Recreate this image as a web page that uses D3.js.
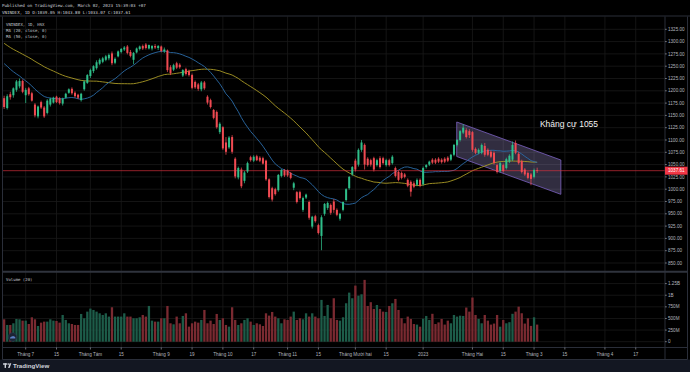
<!DOCTYPE html>
<html><head><meta charset="utf-8">
<script src="https://cdn.jsdelivr.net/npm/d3@7"></script>
<style>body{margin:0;background:#000;overflow:hidden}svg{display:block}</style>
</head><body><svg id="chart" width="690" height="372"></svg>
<script>
// ---------- DATA ----------
const symbol = "VNINDEX, 1D, HSX";
const priceTicks = [850,875,900,925,950,975,1000,1025,1050,1075,1100,1125,1150,1175,1200,1225,1250,1275,1300,1325];
const volTicks = [0,250,500,750,1000,1250];
const volTickLabels = ["0","250M","500M","750M","1B","1.25B"];
const timeTickIdx = [7,17,28,38,51,61,71,81,92,102,114,124,136,152,162,172,182,195,205];
const timeTickLabels = ["Tháng 7","15","Tháng Tám","15","Tháng 9","19","Tháng 10","17","Tháng 11","15","Tháng Mười hai","15","2023","Tháng Hai","15","Tháng 3","15","Tháng 4","17"];
// closes before the first visible bar (used only for the moving averages)
const priorCloses = [1405,1398,1390,1385,1378,1372,1368,1362,1360,1355,1350,1345,1340,1335,1330,1325,1322,1318,1315,1310,1290,1282,1275,1268,1262,1258,1255,1250,1255,1262,1298,1305,1310,1308,1304,1300,1296,1292,1290,1282,1275,1268,1235,1220,1208,1198,1190,1182,1178];
const open = [1185,1165,1193,1191,1202,1209,1220,1191,1205,1195,1172,1148,1177,1166,1155,1172,1176,1188,1185,1174,1186,1196,1204,1196,1192,1181,1203,1216,
1230,1240,1246,1255,1259,1263,1266,1276,1257,1270,1279,1284,1290,1279,1263,1278,1285,1291,1294,1286,1286,1291,1287,
1290,1280,1282,1248,1243,1256,1253,1231,1244,1240,1232,1218,1213,1203,1217,1188,1181,1161,1157,1116,
1126,1095,1085,1106,1062,1024,1040,1017,1036,1065,1058,1067,1064,1063,1058,1020,1002,1000,998,1027,1038,
1038,1033,1003,994,994,958,983,974,924,945,927,905,950,962,968,975,958,940,958,978,1002,1030,
1058,1050,1080,1090,1062,1059,1063,1049,1063,1063,1049,1059,1053,1043,1035,1033,1030,1019,1015,1012,1009,1019,
1010,1045,1050,1060,1060,1062,1060,1062,1064,1060,1070,1090,1100,1115,1120,1118,
1116,1082,1074,1074,1088,1080,1076,1074,1049,1037,1049,1043,1056,1060,1094,1072,1057,1040,1033,1030,
1025,1039.05];
const high = [1190,1193,1198,1207,1222,1225,1223,1206,1208,1198,1175,1170,1180,1169,1183,1186,1188,1190,1187,1186,1196,1205,1207,1199,1194,1196,1221,1234,
1245,1252,1262,1266,1269,1273,1276,1280,1268,1282,1287,1291,1293,1283,1279,1288,1292,1294,1297,1294,1293,1295,1293,
1292,1288,1284,1252,1255,1259,1256,1244,1247,1243,1235,1221,1216,1220,1220,1191,1184,1163,1160,1136,
1128,1106,1108,1110,1065,1046,1044,1037,1056,1068,1069,1070,1067,1066,1060,1022,1005,1003,1031,1041,1041,
1040,1035,1015,996,997,985,991,977,946,948,930,947,972,975,971,980,961,952,975,1002,1027,1047,
1062,1083,1100,1093,1065,1062,1066,1062,1067,1066,1062,1062,1069,1046,1038,1036,1033,1022,1018,1016,1022,1022,
1046,1051,1058,1063,1063,1065,1063,1065,1067,1072,1092,1102,1120,1132,1124,1122,
1118,1085,1083,1093,1094,1083,1079,1077,1052,1056,1052,1064,1071,1097,1099,1076,1060,1043,1036,1033,
1042,1043.80];
const low = [1163,1162,1182,1186,1198,1205,1195,1175,1190,1178,1146,1144,1163,1145,1152,1168,1174,1175,1172,1170,1184,1194,1192,1186,1183,1178,1200,1214,
1226,1236,1243,1252,1256,1260,1262,1252,1254,1268,1276,1281,1274,1268,1254,1276,1282,1283,1284,1284,1282,1285,1283,
1278,1277,1238,1232,1240,1244,1245,1228,1231,1229,1203,1204,1200,1199,1202,1172,1164,1142,1123,1112,
1080,1070,1082,1072,1022,1020,1002,1012,1033,1056,1055,1057,1055,1050,1017,981,975,987,995,1024,1025,
1025,1020,998,971,979,954,980,938,920,932,908,876,946,958,948,952,945,936,955,975,999,1027,
1036,1046,1076,1040,1046,1046,1036,1046,1042,1050,1046,1046,1050,1024,1016,1020,1022,1004,985,1002,1006,1004,
1007,1042,1047,1051,1051,1053,1052,1053,1055,1057,1067,1087,1097,1112,1103,1104,
1076,1071,1071,1071,1066,1067,1063,1050,1032,1034,1034,1040,1053,1057,1071,1050,1032,1027,1020,1008,
1022,1033.07];
const close = [1167,1189,1187,1205,1219,1220,1198,1202,1193,1180,1150,1168,1166,1148,1180,1184,1186,1177,1175,1184,1194,1203,1195,1189,1186,1194,1219,1232,
1242,1250,1258,1263,1266,1270,1273,1256,1265,1280,1285,1288,1277,1271,1277,1286,1290,1286,1287,1293,1291,1288,1291,
1281,1284,1242,1236,1252,1247,1248,1242,1234,1232,1206,1207,1204,1217,1205,1176,1167,1145,1126,1133,
1083,1076,1105,1076,1026,1043,1006,1034,1053,1059,1066,1059,1058,1052,1020,984,979,990,1029,1039,1028,
1028,1023,1012,974,982,982,989,942,944,935,911,943,970,972,952,958,948,950,974,1000,1025,1045,
1040,1080,1095,1050,1049,1050,1040,1059,1045,1053,1059,1049,1066,1027,1019,1023,1025,1007,995,1005,1019,1007,
1043,1049,1056,1054,1054,1056,1055,1056,1058,1070,1090,1100,1118,1125,1106,1110,
1080,1074,1080,1090,1070,1070,1066,1053,1035,1053,1037,1061,1068,1090,1074,1053,1035,1030,1023,1021,
1039,1037.61];
// volume in millions
const volume = [482,360,360,396,489,482,453,453,381,525,482,338,410,432,432,482,453,446,410,575,468,396,381,360,360,597,504,647,
712,683,647,611,575,611,540,741,540,540,540,611,540,540,504,504,525,575,540,769,453,432,432,
504,504,769,396,374,540,396,554,611,324,396,432,410,468,683,396,453,381,597,468,
504,360,324,741,468,360,396,468,504,432,360,396,374,338,611,561,640,540,504,396,482,
468,540,647,468,504,482,611,540,611,540,504,899,554,791,504,935,468,453,525,827,1056,935,
1207,990,1020,1330,769,850,705,790,705,647,640,769,827,920,683,504,396,540,490,380,368,323,
495,554,468,600,380,415,490,368,453,396,575,540,560,554,735,647,
950,575,490,396,575,453,368,390,575,323,468,396,420,600,647,754,612,390,504,340,
525,368];
// drawing annotation (bar index / price)
const channelIdx = [146.9, 180.7];
const channelTop = [1136.6, 1059.3];
const channelBottom = [1066.5, 989.6];
const noteText = "Kháng cự 1055";
const notePos = [173.9, 1127];
const lastPrice = close[close.length-1];

// ---------- LAYOUT ----------
const L = 2.5, R = 665, T = 16.5, PB = 271, VT = 272.5, VB = 347.5, BB = 359.5, RR = 687.5;
const x = d3.scaleLinear().domain([0,205]).range([4.13, 4.13 + 205*3.081]);
const y = d3.scaleLinear().domain([850,1325]).range([263,29.3]);
const yv = d3.scaleLinear().domain([0,1250]).range([341.7,283.6]);
const UP = "#2fbf8a", DOWN = "#f04a52", VUP = "#1d5c49", VDOWN = "#7a2a31";
const GRID = "#191919", FRAME = "#2a2e39", AX = "#b2b5be";
const sans = "'Liberation Sans', Arial, sans-serif", mono = "'DejaVu Sans Mono', monospace";

const svg = d3.select("#chart");
svg.append("rect").attr("width",690).attr("height",372).attr("fill","#000");
svg.append("rect").attr("x",0).attr("y",BB).attr("width",690).attr("height",372-BB).attr("fill","#131722");

const defs = svg.append("defs");
defs.append("clipPath").attr("id","cm").append("rect").attr("x",L).attr("y",T).attr("width",R-L).attr("height",PB-T);
defs.append("clipPath").attr("id","cv").append("rect").attr("x",L).attr("y",VT).attr("width",R-L).attr("height",VB-VT);

// grid
const g = svg.append("g");
g.selectAll(".vg").data(timeTickIdx).join("line")
  .attr("x1",d=>x(d)).attr("x2",d=>x(d)).attr("y1",T).attr("y2",VB).attr("stroke",GRID).attr("stroke-width",0.8);
g.selectAll(".hg").data(priceTicks).join("line")
  .attr("x1",L).attr("x2",R).attr("y1",d=>y(d)).attr("y2",d=>y(d)).attr("stroke",GRID).attr("stroke-width",0.8);
g.selectAll(".vgg").data(volTicks).join("line")
  .attr("x1",L).attr("x2",R).attr("y1",d=>yv(d)).attr("y2",d=>yv(d)).attr("stroke",GRID).attr("stroke-width",0.8);

// main pane
const mp = svg.append("g").attr("clip-path","url(#cm)");
const idx = d3.range(close.length);

// channel
const chPts = [[channelIdx[0],channelTop[0]],[channelIdx[1],channelTop[1]],[channelIdx[1],channelBottom[1]],[channelIdx[0],channelBottom[0]]];
mp.append("path").attr("d", d3.line().x(d=>x(d[0])).y(d=>y(d[1]))(chPts)+"Z")
  .attr("fill","rgba(175,160,230,0.28)").attr("stroke","#7e63c4").attr("stroke-width",0.8);

// moving averages
const all = priorCloses.concat(close);
const off = priorCloses.length;
function ma(n){ return idx.map(i => d3.mean(all.slice(i+off-n+1, i+off+1))); }
const ma20 = ma(20), ma50 = ma(50);
mp.append("path").attr("d", d3.line().x((d,i)=>x(i)).y(d=>y(d))(ma50)).attr("fill","none").attr("stroke","#a99a26").attr("stroke-width",0.9);
mp.append("path").attr("d", d3.line().x((d,i)=>x(i)).y(d=>y(d))(ma20)).attr("fill","none").attr("stroke","#2b6ca8").attr("stroke-width",0.9);

// last price line
mp.append("line").attr("x1",L).attr("x2",R).attr("y1",y(lastPrice)).attr("y2",y(lastPrice))
  .attr("stroke","#d8313d").attr("stroke-width",0.8).attr("opacity",0.85);

// candles
const cg = mp.append("g");
cg.selectAll(".w").data(idx).join("line")
  .attr("x1",i=>x(i)).attr("x2",i=>x(i)).attr("y1",i=>y(high[i])).attr("y2",i=>y(low[i]))
  .attr("stroke",i=>close[i]>=open[i]?UP:DOWN).attr("stroke-width",0.75);
cg.selectAll(".b").data(idx).join("rect")
  .attr("x",i=>x(i)-1).attr("width",2)
  .attr("y",i=>y(Math.max(open[i],close[i])))
  .attr("height",i=>Math.max(0.8, Math.abs(y(open[i])-y(close[i]))))
  .attr("fill",i=>close[i]>=open[i]?UP:DOWN);

// note
mp.append("text").attr("x",x(notePos[0])).attr("y",y(notePos[1])).text(noteText)
  .attr("fill","#f2f2f2").attr("font-family",sans).attr("font-size",8.5);

// volume pane
const vp = svg.append("g").attr("clip-path","url(#cv)");
vp.selectAll("rect").data(idx).join("rect")
  .attr("x",i=>x(i)-1.15).attr("width",2.3)
  .attr("y",i=>yv(volume[i])).attr("height",i=>yv(0)-yv(volume[i]))
  .attr("fill",i=>close[i]>=open[i]?VUP:VDOWN);

// frame
const fr = svg.append("g").attr("stroke",FRAME).attr("fill","none");
fr.append("line").attr("x1",0).attr("x2",690).attr("y1",T-0.5).attr("y2",T-0.5).attr("stroke-width",1);
fr.append("line").attr("x1",L).attr("x2",L).attr("y1",T).attr("y2",BB);
fr.append("line").attr("x1",RR).attr("x2",RR).attr("y1",T).attr("y2",BB);
fr.append("line").attr("x1",R).attr("x2",R).attr("y1",T).attr("y2",BB);
fr.append("line").attr("x1",L).attr("x2",RR).attr("y1",(PB+VT)/2).attr("y2",(PB+VT)/2).attr("stroke-width",1.8).attr("stroke","#2f333d");
fr.append("line").attr("x1",L).attr("x2",RR).attr("y1",VB).attr("y2",VB);
fr.append("line").attr("x1",L).attr("x2",RR).attr("y1",BB).attr("y2",BB);

// price axis
const pa = svg.append("g");
pa.selectAll("line").data(priceTicks).join("line").attr("x1",R).attr("x2",R+1.8).attr("y1",d=>y(d)).attr("y2",d=>y(d)).attr("stroke",AX).attr("stroke-width",0.6);
pa.selectAll("text").data(priceTicks).join("text").attr("x",R+3).attr("y",d=>y(d)+1.6).text(d3.format(".2f"))
  .attr("fill",AX).attr("font-family",sans).attr("font-size",4.6);
const va = svg.append("g");
va.selectAll("line").data(volTicks).join("line").attr("x1",R).attr("x2",R+1.8).attr("y1",d=>yv(d)).attr("y2",d=>yv(d)).attr("stroke",AX).attr("stroke-width",0.6);
va.selectAll("text").data(volTicks).join("text").attr("x",R+3).attr("y",d=>yv(d)+1.6).text((d,i)=>volTickLabels[i])
  .attr("fill",AX).attr("font-family",sans).attr("font-size",4.6);
// last price tag
svg.append("rect").attr("x",R).attr("y",y(lastPrice)-4).attr("width",RR-R).attr("height",8).attr("fill","#f23645");
svg.append("text").attr("x",R+3).attr("y",y(lastPrice)+1.6).text(lastPrice.toFixed(2)).attr("fill","#fff").attr("font-family",sans).attr("font-size",4.6);

// time axis
const ta = svg.append("g");
ta.selectAll("line").data(timeTickIdx).join("line").attr("x1",d=>x(d)).attr("x2",d=>x(d)).attr("y1",VB).attr("y2",VB+2).attr("stroke",AX).attr("stroke-width",0.6);
ta.selectAll("text").data(timeTickIdx).join("text").attr("x",d=>x(d)).attr("y",356).attr("text-anchor","middle")
  .text((d,i)=>timeTickLabels[i]).attr("fill",AX).attr("font-family",sans).attr("font-size",4.6);

// header & legends
const last = close.length-1;
svg.append("text").attr("x",2).attr("y",7).text("Published on TradingView.com, March 02, 2023 15:39:03 +07")
  .attr("fill","#d1d4dc").attr("font-family",mono).attr("font-size",4.2);
svg.append("text").attr("x",2).attr("y",13.5)
  .text(`VNINDEX, 1D O:${open[last].toFixed(2)} H:${high[last].toFixed(2)} L:${low[last].toFixed(2)} C:${close[last].toFixed(2)}`)
  .attr("fill","#d1d4dc").attr("font-family",mono).attr("font-size",4.2);
const legend = [symbol, "MA (20, close, 0)", "MA (50, close, 0)"];
svg.append("g").selectAll("text").data(legend).join("text").attr("x",6).attr("y",(d,i)=>25.5+i*6).text(d=>d)
  .attr("fill","#c4c7ce").attr("font-family",mono).attr("font-size",4);
svg.append("text").attr("x",6).attr("y",281).text("Volume (20)").attr("fill","#c4c7ce").attr("font-family",mono).attr("font-size",4);

// small logo badge in volume pane
svg.append("circle").attr("cx",12.5).attr("cy",337).attr("r",4.3).attr("fill","#1c2433").attr("stroke","#2c3a55").attr("stroke-width",0.6);
svg.append("path").attr("d","M9.8,338.6 q0.6,-2.2 2.2,-2 q0.9,-1.4 2.3,0 q1.2,0 1.1,2 z").attr("fill","#5b7fc4");

// footer logo
const fg = svg.append("g").attr("fill","#d1d4dc");
fg.append("rect").attr("x",3).attr("y",363.3).attr("width",4).attr("height",1.4);
fg.append("rect").attr("x",4.6).attr("y",363.3).attr("width",1.4).attr("height",4.6);
fg.append("circle").attr("cx",8.2).attr("cy",364.1).attr("r",0.8);
fg.append("path").attr("d","M9.6,363.3 L11.3,363.3 L9.6,367.9 L8.1,367.9 Z");
fg.append("text").attr("x",13).attr("y",367.8).text("TradingView").attr("font-family",sans).attr("font-weight","bold").attr("font-size",6.2);
</script></body></html>
